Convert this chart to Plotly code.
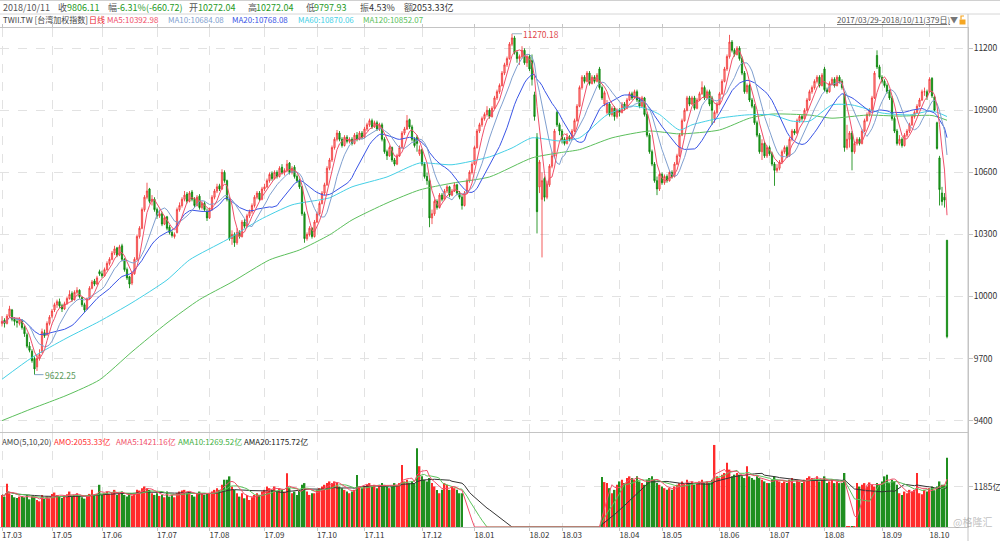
import plotly.graph_objects as go
import pandas as pd

# ---------------- data ----------------
open_ = [
    9870, 9885, 9870, 9905, 9935, 9890, 9880, 9870, 9885, 9850,
    9815, 9760, 9735, 9700, 9660, 9700, 9730, 9825, 9815, 9870,
    9905, 9935, 9960, 9975, 9955, 9940, 9965, 9990, 10015, 9985,
    10020, 10030, 9995, 9960, 9940, 9990, 10040, 10075, 10060, 10120,
    10110, 10100, 10130, 10160, 10180, 10210, 10235, 10200, 10245, 10180,
    10130, 10095, 10065, 10110, 10180, 10290, 10330, 10420, 10480, 10520,
    10460, 10470, 10420, 10390, 10400, 10350, 10385, 10335, 10310, 10290,
    10310, 10420, 10440, 10470, 10495, 10460, 10505, 10470, 10440, 10485,
    10430, 10450, 10410, 10380, 10420, 10480, 10510, 10535, 10520, 10600,
    10560, 10470, 10280, 10300, 10260, 10310, 10290, 10360, 10340, 10390,
    10410, 10440, 10480, 10500, 10470, 10520, 10530, 10560, 10595, 10570,
    10600, 10580, 10625, 10600, 10610, 10645, 10600, 10625, 10580, 10560,
    10530, 10400, 10280, 10300, 10330, 10290, 10360, 10400, 10450, 10500,
    10540, 10620, 10660, 10720, 10760, 10790, 10760, 10730, 10770, 10750,
    10760, 10740, 10780, 10760, 10790, 10770, 10810, 10830, 10850, 10820,
    10840, 10810, 10830, 10760, 10700, 10680, 10720, 10660, 10640, 10680,
    10720, 10790, 10810, 10855, 10820, 10760, 10770, 10690, 10710, 10640,
    10580, 10560, 10380, 10400, 10460, 10430, 10490, 10470, 10510, 10530,
    10490, 10510, 10540, 10500, 10480, 10440, 10500, 10560, 10600, 10640,
    10720, 10800, 10830, 10860, 10880, 10900, 10870, 10910, 10960, 10990,
    11020, 11080, 11120, 11150, 11220, 11250, 11180, 11150, 11160, 11190,
    11130, 11160, 11140, 10975, 10770, 10530, 10470, 10570, 10480, 10540,
    10630, 10680, 10890, 10830, 10800, 10760, 10740, 10770, 10760, 10800,
    10850, 10920, 11010, 11060, 11040, 11080, 11030, 11060, 11040, 11100,
    11010, 10930, 10890, 10930, 10880, 10910, 10870, 10900, 10890, 10930,
    10910, 10950, 10980, 10960, 10990, 10950, 10920, 10960, 10880, 10780,
    10700, 10640, 10560, 10520, 10590, 10550, 10580, 10560, 10600, 10580,
    10640, 10680, 10780, 10850, 10900, 10960, 10930, 10960, 10910, 10950,
    10980, 11010, 10960, 10990, 10960, 10860, 10890, 10930, 10980, 11040,
    11100, 11160, 11230, 11190, 11170, 11200, 11150, 11080, 10990, 11020,
    10950, 10920, 10840, 10780, 10700, 10740, 10680, 10720, 10690, 10640,
    10610, 10620, 10650, 10700, 10720, 10680, 10760, 10800, 10790, 10850,
    10870, 10860, 10900, 10950, 10990, 11010, 11040, 11060, 11020, 11100,
    11000, 10990, 11030, 11050, 11020, 11060, 11040, 10980, 10720, 10760,
    10790, 10700, 10740, 10760, 10740, 10800, 10850, 10880, 10900, 10960,
    11165, 11110, 11060, 11040, 11020, 10990, 10960, 10860, 10800, 10740,
    10760, 10730, 10780, 10800, 10830, 10870, 10890, 10920, 10950, 10990,
    10990, 10990, 11055, 10965, 10840, 10670, 10500, 10480, 10272.04,
]
high = [
    9905, 9895, 9915, 9955, 9940, 9900, 9890, 9900, 9890, 9860,
    9825, 9780, 9745, 9710, 9720, 9745, 9845, 9840, 9880, 9910,
    9940, 9970, 9985, 9990, 9965, 9975, 10000, 10030, 10025, 10030,
    10045, 10035, 10000, 9970, 9995, 10050, 10080, 10085, 10100, 10130,
    10125, 10140, 10170, 10190, 10220, 10245, 10240, 10250, 10255, 10185,
    10140, 10100, 10120, 10190, 10300, 10340, 10430, 10490, 10550, 10525,
    10490, 10480, 10430, 10420, 10410, 10390, 10390, 10345, 10320, 10310,
    10430, 10455, 10480, 10510, 10505, 10510, 10515, 10480, 10490, 10495,
    10460, 10460, 10425, 10430, 10490, 10520, 10545, 10545, 10615, 10610,
    10565, 10480, 10320, 10310, 10330, 10320, 10370, 10375, 10400, 10420,
    10450, 10490, 10510, 10510, 10530, 10545, 10570, 10600, 10605, 10610,
    10610, 10630, 10640, 10620, 10660, 10650, 10630, 10635, 10590, 10570,
    10535, 10410, 10310, 10340, 10335, 10370, 10410, 10460, 10510, 10550,
    10630, 10670, 10730, 10770, 10805, 10800, 10770, 10780, 10780, 10770,
    10770, 10790, 10795, 10800, 10800, 10820, 10840, 10860, 10860, 10850,
    10850, 10840, 10840, 10770, 10710, 10730, 10725, 10670, 10690, 10730,
    10800, 10820, 10877, 10860, 10830, 10770, 10780, 10730, 10715, 10650,
    10600, 10570, 10420, 10470, 10470, 10500, 10500, 10520, 10540, 10535,
    10520, 10550, 10545, 10510, 10490, 10510, 10570, 10610, 10650, 10730,
    10810, 10840, 10870, 10890, 10920, 10910, 10920, 10970, 11000, 11030,
    11090, 11130, 11160, 11230, 11270.18, 11260, 11190, 11170, 11210, 11200,
    11170, 11170, 11170, 10990, 10790, 10660, 10600, 10580, 10560, 10640,
    10700, 10810, 10900, 10840, 10810, 10770, 10790, 10780, 10810, 10860,
    10930, 11020, 11070, 11070, 11090, 11090, 11070, 11070, 11080, 11110,
    11020, 10995, 10950, 10940, 10920, 10920, 10910, 10910, 10940, 10940,
    10960, 10990, 10990, 11000, 11000, 10960, 10970, 10965, 10890, 10790,
    10710, 10650, 10580, 10600, 10600, 10590, 10590, 10610, 10610, 10650,
    10690, 10790, 10860, 10910, 10970, 10970, 10970, 10970, 10960, 10990,
    11040, 11020, 11000, 11000, 10970, 10900, 10940, 10990, 11050, 11110,
    11170, 11265, 11240, 11200, 11210, 11210, 11160, 11090, 11030, 11030,
    10960, 10930, 10850, 10790, 10760, 10750, 10730, 10730, 10700, 10650,
    10640, 10660, 10710, 10730, 10730, 10770, 10810, 10810, 10860, 10880,
    10880, 10910, 10960, 11000, 11020, 11050, 11070, 11070, 11080, 11110,
    11010, 11040, 11060, 11060, 11070, 11070, 11050, 10990, 10830, 10800,
    10800, 10750, 10770, 10770, 10810, 10860, 10890, 10910, 10970, 11090,
    11190, 11120, 11070, 11050, 11030, 11000, 10970, 10870, 10810, 10780,
    10770, 10790, 10810, 10840, 10880, 10900, 10930, 10960, 11000, 11010,
    11000, 11060, 11060, 10970, 10845, 10680, 10530, 10500, 10272.04,
]
low = [
    9855, 9850, 9865, 9900, 9880, 9860, 9850, 9860, 9840, 9805,
    9750, 9730, 9680, 9622.25, 9640, 9690, 9725, 9800, 9810, 9860,
    9895, 9925, 9945, 9945, 9925, 9935, 9960, 9985, 9975, 9980,
    10010, 9990, 9950, 9925, 9935, 9985, 10035, 10050, 10055, 10100,
    10090, 10095, 10125, 10150, 10175, 10200, 10190, 10195, 10170, 10120,
    10080, 10040, 10055, 10105, 10175, 10280, 10325, 10410, 10470, 10450,
    10440, 10410, 10375, 10380, 10340, 10345, 10320, 10300, 10285, 10280,
    10305, 10410, 10430, 10460, 10450, 10455, 10460, 10430, 10435, 10420,
    10420, 10410, 10365, 10375, 10415, 10470, 10500, 10510, 10515, 10550,
    10460, 10270, 10250, 10240, 10250, 10280, 10285, 10330, 10335, 10380,
    10400, 10430, 10470, 10460, 10465, 10510, 10525, 10550, 10560, 10565,
    10570, 10575, 10590, 10585, 10600, 10590, 10590, 10570, 10550, 10520,
    10390, 10260, 10270, 10290, 10280, 10285, 10355, 10395, 10445, 10490,
    10535, 10610, 10650, 10710, 10750, 10750, 10720, 10725, 10740, 10740,
    10730, 10735, 10750, 10755, 10760, 10765, 10800, 10820, 10810, 10815,
    10800, 10800, 10750, 10690, 10660, 10675, 10650, 10630, 10635, 10675,
    10715, 10780, 10805, 10810, 10750, 10720, 10700, 10680, 10630, 10570,
    10540, 10335, 10350, 10390, 10420, 10425, 10460, 10465, 10500, 10480,
    10485, 10505, 10490, 10470, 10420, 10435, 10495, 10550, 10590, 10635,
    10715, 10790, 10820, 10850, 10870, 10860, 10865, 10905, 10950, 10980,
    11015, 11070, 11110, 11145, 11210, 11170, 11130, 11120, 11150, 11120,
    11110, 11090, 11020, 10850, 10305, 10500, 10189, 10460, 10470, 10530,
    10620, 10670, 10820, 10780, 10740, 10730, 10735, 10750, 10755, 10795,
    10845, 10915, 11000, 11030, 11035, 11020, 11025, 11030, 11035, 11000,
    10950, 10920, 10880, 10870, 10870, 10850, 10860, 10870, 10885, 10900,
    10905, 10945, 10950, 10955, 10940, 10910, 10915, 10870, 10770, 10690,
    10630, 10550, 10490, 10510, 10540, 10540, 10550, 10555, 10570, 10575,
    10635, 10675, 10775, 10845, 10895, 10920, 10925, 10900, 10905, 10945,
    10975, 10950, 10955, 10920, 10830, 10840, 10880, 10925, 10975, 11035,
    11090, 11150, 11180, 11160, 11165, 11140, 11070, 10980, 10980, 10940,
    10910, 10830, 10770, 10690, 10660, 10670, 10670, 10680, 10630, 10535,
    10600, 10610, 10640, 10690, 10670, 10675, 10750, 10780, 10785, 10840,
    10850, 10855, 10895, 10945, 10980, 11000, 11030, 11010, 11015, 10990,
    10980, 10985, 11020, 11010, 11015, 11030, 11000, 10700, 10710, 10720,
    10610, 10690, 10730, 10730, 10735, 10795, 10845, 10870, 10895, 10955,
    11100, 11050, 11030, 11010, 10980, 10950, 10850, 10790, 10730, 10730,
    10720, 10725, 10770, 10790, 10825, 10860, 10885, 10915, 10945, 10970,
    10950, 10985, 10960, 10895, 10710, 10440, 10440, 10430, 9797.93,
]
close = [
    9880, 9870, 9905, 9940, 9890, 9880, 9875, 9890, 9850, 9820,
    9760, 9740, 9690, 9650, 9700, 9720, 9830, 9810, 9870, 9900,
    9930, 9960, 9975, 9955, 9940, 9965, 9990, 10010, 9985, 10020,
    10030, 10000, 9960, 9935, 9990, 10040, 10070, 10060, 10090, 10110,
    10100, 10130, 10160, 10180, 10210, 10230, 10200, 10240, 10180, 10130,
    10090, 10060, 10110, 10180, 10290, 10330, 10420, 10480, 10510, 10460,
    10470, 10420, 10390, 10400, 10350, 10380, 10330, 10310, 10295, 10300,
    10420, 10440, 10470, 10490, 10460, 10500, 10470, 10440, 10480, 10430,
    10450, 10420, 10380, 10420, 10480, 10510, 10530, 10520, 10600, 10560,
    10470, 10280, 10300, 10260, 10310, 10290, 10360, 10340, 10390, 10410,
    10440, 10480, 10500, 10470, 10520, 10530, 10560, 10590, 10570, 10600,
    10580, 10620, 10600, 10610, 10640, 10600, 10620, 10580, 10560, 10530,
    10400, 10280, 10300, 10330, 10290, 10360, 10400, 10450, 10500, 10540,
    10620, 10660, 10720, 10760, 10790, 10760, 10730, 10770, 10750, 10760,
    10740, 10780, 10760, 10790, 10770, 10810, 10830, 10850, 10820, 10840,
    10810, 10830, 10760, 10700, 10680, 10720, 10660, 10640, 10680, 10720,
    10790, 10810, 10850, 10820, 10760, 10730, 10740, 10710, 10640, 10580,
    10560, 10380, 10400, 10460, 10430, 10490, 10470, 10510, 10530, 10490,
    10510, 10540, 10500, 10480, 10440, 10500, 10560, 10600, 10640, 10720,
    10800, 10830, 10860, 10880, 10900, 10870, 10910, 10960, 10990, 11020,
    11080, 11120, 11150, 11220, 11250, 11180, 11150, 11160, 11190, 11130,
    11160, 11100, 11050, 10870, 10410, 10650, 10560, 10480, 10540, 10630,
    10680, 10800, 10830, 10800, 10760, 10740, 10770, 10760, 10800, 10850,
    10920, 11010, 11060, 11040, 11080, 11030, 11060, 11040, 11070, 11010,
    10960, 10985, 10930, 10880, 10910, 10870, 10900, 10890, 10930, 10910,
    10950, 10980, 10960, 10990, 10950, 10920, 10960, 10880, 10780, 10700,
    10640, 10560, 10520, 10590, 10550, 10580, 10560, 10600, 10580, 10640,
    10680, 10780, 10850, 10900, 10960, 10930, 10960, 10910, 10950, 10980,
    11010, 10960, 10990, 10930, 10900, 10890, 10930, 10980, 11040, 11100,
    11160, 11230, 11190, 11170, 11200, 11150, 11080, 10990, 11020, 10950,
    10920, 10840, 10780, 10700, 10740, 10680, 10720, 10690, 10640, 10610,
    10620, 10650, 10700, 10720, 10680, 10760, 10800, 10790, 10850, 10870,
    10860, 10900, 10950, 10990, 11010, 11040, 11060, 11020, 11070, 11000,
    10990, 11030, 11050, 11020, 11060, 11040, 11010, 10720, 10760, 10790,
    10700, 10740, 10760, 10740, 10800, 10850, 10880, 10900, 10960, 11080,
    11110, 11060, 11040, 11020, 10990, 10960, 10860, 10800, 10740, 10760,
    10730, 10780, 10800, 10830, 10870, 10890, 10920, 10950, 10990, 10990,
    10966, 11050, 10970, 10900, 10716, 10517, 10459, 10466.83, 9806.11,
]
# turnover (亿)
volume = [
    950, 900, 1280, 1000, 950, 880, 860, 900, 920, 880,
    950, 820, 900, 880, 800, 760, 950, 830, 900, 850,
    980, 1020, 950, 900, 860, 920, 970, 1050, 900, 950,
    1000, 920, 880, 840, 900, 980, 1100, 950, 980, 1250,
    950, 1000, 1050, 980, 1020, 1100, 950, 1000, 1050, 950,
    900, 980, 930, 1000, 1100, 1080, 1150, 1200, 1150, 1100,
    1000, 950, 1000, 920, 950, 880, 1050, 900, 950, 880,
    1000, 1050, 1080, 1100, 1000, 1050, 950, 900, 980, 1050,
    1000, 950, 980, 1000, 1050, 1100, 1150, 1100, 1250, 1400,
    1400, 1500, 1200, 1100, 1000, 900, 1000, 850, 950, 800,
    880, 950, 1000, 950, 1050, 1100, 1200, 1150, 1100, 1200,
    1050, 1150, 1100, 1050, 1590, 1150, 1000, 1050, 950, 1100,
    1250, 1300, 1050, 950, 1000, 1000, 1100, 1150, 1200, 1250,
    1300, 1350, 1300, 1350, 1300, 1200, 1150, 1100, 1050, 1000,
    1050, 1100, 1540, 1200, 1150, 1200, 1250, 1300, 1200, 1250,
    1150, 1200, 1300, 1250, 1200, 1150, 1200, 1300, 1250, 1300,
    1837, 1350, 1400, 1300, 1350, 1300, 2330, 1800, 1500, 1400,
    1350, 1450, 1300, 1200, 1096, 1000, 1100, 1300, 1250, 1100,
    1200, 1150, 1100, 1000, 1000, 0, 0, 0, 0, 0,
    0, 0, 0, 0, 0, 0, 0, 0, 0, 0,
    0, 0, 0, 0, 0, 0, 0, 0, 0, 0,
    0, 0, 0, 0, 0, 0, 0, 0, 0, 0,
    0, 0, 0, 0, 0, 0, 0, 0, 0, 0,
    0, 0, 0, 0, 0, 0, 0, 0, 0, 0,
    1480, 1330, 1300, 1150, 1000, 1100, 1250, 1350, 1400, 1300,
    1450, 1500, 1450, 1400, 1500, 1350, 1300, 1250, 1400, 1450,
    1500, 1400, 1300, 1250, 1200, 1150, 1100, 1150, 1100, 1200,
    1250, 1300, 1350, 1300, 1400, 1300, 1350, 1250, 1300, 1350,
    1400, 1300, 1350, 1300, 1400, 2430, 1500, 1450, 1550, 1600,
    1900, 1700, 1500, 1550, 1600, 1550, 1500, 1450, 1800, 1500,
    1450, 1400, 1500, 1450, 1400, 1350, 1300, 1300, 1400, 1500,
    1400, 1350, 1300, 1350, 1300, 1400, 1450, 1300, 1400, 1350,
    1300, 1400, 1450, 1500, 1450, 1400, 1500, 1350, 1400, 1500,
    1300, 1350, 1400, 1300, 1350, 1300, 1300, 1600, 15, 20,
    10, 20, 1300, 1200, 1250, 1300, 1200, 1320, 1250, 1200,
    1300, 1250, 1350, 1500, 1550, 1300, 1400, 1350, 1250, 1000,
    950, 1050, 1000, 1100, 1050, 1100, 1600, 1000, 970, 1100,
    1050, 1150, 1200, 1089, 1200, 1350, 1250, 1253, 2053.33,
]
# long moving averages (day index -> value)
ma60_idx = [0, 12, 26, 39, 52, 66, 75, 90, 103, 116, 127, 131, 140, 154, 167, 180, 195, 204, 212,
            223, 231, 242, 252, 259, 263, 271, 276, 287, 298, 308, 316, 323, 332, 340, 352, 363, 372, 378]
ma60_val = [9600, 9705, 9800, 9880, 9970, 10080, 10177, 10275, 10370, 10443, 10467, 10477, 10530,
            10578, 10645, 10637, 10675, 10718, 10767, 10752, 10767, 10878, 10921, 10903, 10880, 10805,
            10830, 10862, 10878, 10878, 10848, 10848, 10926, 10926, 10887, 10878, 10897, 10870.06]
ma120_idx = [0, 12, 26, 39, 52, 66, 79, 92, 107, 119, 131, 140, 154, 167, 180, 195, 212, 223, 231,
             244, 259, 271, 287, 299, 308, 323, 332, 346, 359, 372, 378]
ma120_val = [9400, 9458, 9523, 9597, 9733, 9872, 9985, 10070, 10177, 10225, 10298, 10370, 10452,
             10515, 10548, 10578, 10670, 10695, 10710, 10767, 10800, 10786, 10805, 10862, 10882,
             10877, 10862, 10877, 10872, 10875, 10852.07]

month_idx = [0, 20, 40, 62, 83, 105, 126, 145, 168, 189, 211, 224, 247, 264, 287, 307, 329, 352, 371]
month_lbl = ["17.03", "17.05", "17.06", "17.07", "17.08", "17.09", "17.10", "17.11", "17.12",
             "18.01", "18.02", "18.03", "18.04", "18.05", "18.06", "18.07", "18.08", "18.09", "18.10"]
price_ticks = [9400, 9700, 10000, 10300, 10600, 10900, 11200]
price_tick_lbl = ["9400", "9700", "10000", "10300", "10600", "10900", "11200"]
vol_ticks = [1185]
vol_tick_lbl = ["1185亿"]

# ---------------- derived series ----------------
x = list(range(len(close)))
cs = pd.Series(close)
ma5 = cs.rolling(5, min_periods=1).mean()
ma10 = cs.rolling(10, min_periods=1).mean()
ma20 = cs.rolling(20, min_periods=1).mean()
vs = pd.Series(volume)
ama5 = vs.rolling(5, min_periods=1).mean()
ama10 = vs.rolling(10, min_periods=1).mean()
ama20 = vs.rolling(20, min_periods=1).mean()

VOL_RED = "#ff2b2b"
VOL_GREEN = "#1f8f1f"
vol_colors = [VOL_RED if c >= o else VOL_GREEN for o, c in zip(open_, close)]

C_MA5 = "#f0506a"
C_MA10 = "#7f9fcf"
C_MA20 = "#3a55e6"
C_MA60 = "#45d0e6"
C_MA120 = "#5cbf5c"
GRID = "#e2e2e2"
AXL = "#c4c4c4"
FONT = "Noto Sans CJK SC, Noto Sans, sans-serif"

# ---------------- geometry helpers (pixels -> paper) ----------------
W, H = 1000, 541
ML, MR, MT, MB = 0, 32, 28, 14
PW = W - ML - MR
PH = H - MT - MB
BOT = H - MB  # pixel row of the bottom axis


def px(xp):
    return (xp - ML) / PW


def py(yp):
    return (BOT - yp) / PH


fig = go.Figure()

fig.add_trace(go.Candlestick(
    x=x, open=open_, high=high, low=low, close=close,
    xaxis="x", yaxis="y",
    increasing=dict(line=dict(color="rgba(240,50,50,0.8)", width=1), fillcolor="rgba(255,110,110,0.6)"),
    decreasing=dict(line=dict(color="rgba(0,130,0,0.8)", width=1), fillcolor="rgba(0,135,0,0.8)"),
    hoverinfo="skip", showlegend=False,
))

for yv, col, xv in [(ma120_val, C_MA120, ma120_idx), (ma60_val, C_MA60, ma60_idx)]:
    fig.add_trace(go.Scatter(x=xv, y=yv, mode="lines", line=dict(color=col, width=1, shape="spline", smoothing=0.6),
                             xaxis="x", yaxis="y", hoverinfo="skip", showlegend=False))
for yv, col in [(ma20, C_MA20), (ma10, C_MA10), (ma5, C_MA5)]:
    fig.add_trace(go.Scatter(x=x, y=yv, mode="lines", line=dict(color=col, width=1),
                             xaxis="x", yaxis="y", hoverinfo="skip", showlegend=False))

fig.add_trace(go.Bar(x=x, y=volume, marker=dict(color=vol_colors, line=dict(width=0)),
                     xaxis="x2", yaxis="y2", hoverinfo="skip", showlegend=False))
for yv, col in [(ama20, "#333333"), (ama10, "#5cc45c"), (ama5, "#f0506a")]:
    fig.add_trace(go.Scatter(x=x, y=yv, mode="lines", line=dict(color=col, width=1),
                             xaxis="x2", yaxis="y2", hoverinfo="skip", showlegend=False))

XR = [-0.8, 386.4]
common_x = dict(range=XR, tickmode="array", tickvals=month_idx, showgrid=True, gridcolor=GRID,
                griddash="dash", gridwidth=1, ticks="outside", ticklen=3, tickcolor=AXL,
                showline=True, linecolor=AXL, zeroline=False, fixedrange=True, automargin=False)
common_y = dict(side="right", showgrid=True, gridcolor=GRID, griddash="dash", gridwidth=1,
                ticks="outside", ticklen=4, tickcolor=AXL, showline=True, linecolor=AXL,
                mirror=True, zeroline=False, tickfont=dict(size=8.5, color="#333"), fixedrange=True,
                automargin=False, ticklabelstandoff=-1)

fig.update_layout(
    width=W, height=H, margin=dict(l=ML, r=MR, t=MT, b=MB, autoexpand=False),
    paper_bgcolor="white", plot_bgcolor="white", showlegend=False,
    font=dict(family=FONT, size=8, color="#333"),
    bargap=0.3,
    xaxis=dict(domain=[0, 1], anchor="y", showticklabels=False, mirror="ticks",
               rangeslider=dict(visible=False), **common_x),
    yaxis=dict(domain=[py(432), 1], anchor="x", range=[9345, 11298], tickvals=price_ticks,
               ticktext=price_tick_lbl, **common_y),
    xaxis2=dict(domain=[0, 1], anchor="y2", ticktext=month_lbl, ticklabelshift=10,
                ticklabelstandoff=-3, tickfont=dict(size=8, color="#333"), **common_x),
    yaxis2=dict(domain=[0, py(433)], anchor="x2", range=[0, 2784], tickvals=vol_ticks,
                ticktext=vol_tick_lbl, **common_y),
)

ann = []


def txt(xp, yp, t, col, size=8):
    ann.append(dict(x=px(xp), y=py(yp), xref="paper", yref="paper", text=t, showarrow=False,
                    xanchor="left", yanchor="middle", font=dict(family=FONT, size=size, color=col),
                    borderpad=0))


GT = "#1f9a1f"
LB = "#555"
row1 = [(2, "2018/10/11", LB), (57, "收", LB), (66, "9806.11", GT), (107, "幅", LB),
        (116, "-6.31%(-660.72)", GT), (188, "开", LB), (197, "10272.04", GT), (247, "高", LB),
        (255, "10272.04", GT), (305, "低", LB), (313, "9797.93", GT), (359, "振", LB),
        (368, "4.53%", "#333"), (403, "额", LB), (411, "2053.33亿", "#333")]
for xp, t, c in row1:
    txt(xp, 7.5, t, c, 9)

row2 = [(2, "TWII.TW [台湾加权指数]", "#444"), (88, "日线", "#e8202a"), (106, "MA5:10392.98", C_MA5),
        (167, "MA10:10684.08", C_MA10), (231, "MA20:10768.08", C_MA20),
        (297, "MA60:10870.06", C_MA60), (362, "MA120:10852.07", C_MA120)]
for xp, t, c in row2:
    txt(xp, 20, t, c, 8)
txt(836, 20, "<u>2017/03/29-2018/10/11(379日)</u>", "#555", 8)
txt(949, 20, "▼", "#777", 8)

row3 = [(1, "AMO(5,10,20)", "#444"), (53, "AMO:2053.33亿", "#ff3030"), (115, "AMA5:1421.16亿", C_MA5),
        (177, "AMA10:1269.52亿", "#3fb03f"), (243, "AMA20:1175.72亿", "#222")]
for xp, t, c in row3:
    txt(xp, 442, t, c, 8)

txt(952, 521, "@格隆汇", "rgba(150,150,150,0.6)", 10)

# extreme labels
ann.append(dict(x=204, y=11270.18, xref="x", yref="y", text="11270.18", showarrow=True, arrowhead=0,
                arrowwidth=1, arrowcolor="#9ab4c4", ax=10, ay=0, xanchor="left", yanchor="middle",
                font=dict(family=FONT, size=8.5, color="#e04848"), borderpad=0))
ann.append(dict(x=13, y=9622.25, xref="x", yref="y", text="9622.25", showarrow=True, arrowhead=0,
                arrowwidth=1, arrowcolor="#7fa2c4", ax=9, ay=0, xanchor="left", yanchor="middle",
                font=dict(family=FONT, size=8.5, color="#5a9a5a"), borderpad=0))
fig.update_layout(annotations=ann)

shapes = [
    dict(type="line", xref="paper", yref="paper", x0=0, x1=px(1000), y0=py(0.5), y1=py(0.5),
         line=dict(color="#d0d0d0", width=1)),
    dict(type="line", xref="paper", yref="paper", x0=0, x1=px(1000), y0=py(14), y1=py(14),
         line=dict(color="#d6d6d6", width=1)),
    dict(type="line", xref="paper", yref="paper", x0=1, x1=1, y0=py(H), y1=py(14),
         line=dict(color=AXL, width=1)),
    dict(type="rect", xref="paper", yref="paper", x0=px(959.5), x1=px(965.5), y0=py(24.5), y1=py(19.5),
         fillcolor="#f5a623", line=dict(width=0)),
    dict(type="path", xref="paper", yref="paper",
         path=f"M {px(961)} {py(19.5)} L {px(961)} {py(16)} L {px(964)} {py(16)}",
         line=dict(color="#f5a623", width=1.2)),
]
fig.update_layout(shapes=shapes)

fig.write_html("out.html", include_plotlyjs=True, config={"displayModeBar": False},
               post_script="document.body.style.margin='0';document.body.style.overflow='hidden';")
